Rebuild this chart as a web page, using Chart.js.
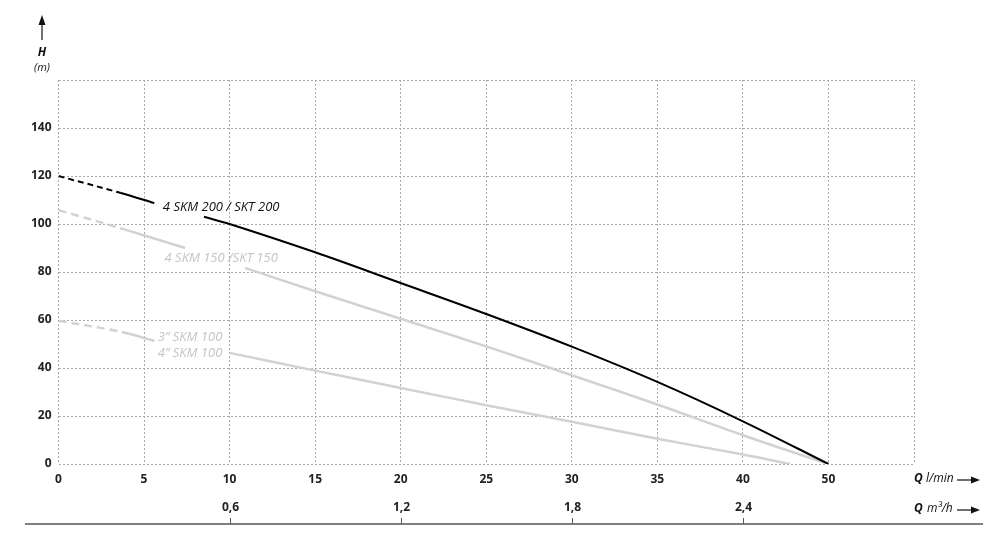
<!DOCTYPE html>
<html>
<head>
<meta charset="utf-8">
<script src="https://cdn.jsdelivr.net/npm/chart.js@4.4.0/dist/chart.umd.min.js"></script>
<style>
  body { margin: 0; background: #fff; }
  #wrap { width: 997px; height: 552px; }
</style>
</head>
<body>
<div id="wrap"><canvas id="c"></canvas></div>
<script>
// x runs in grid steps of 5; the original sheet labels the 10th line "50" (no 45)
const xTickLabels = ['0', '5', '10', '15', '20', '25', '30', '35', '40', '50', ''];
const m3hTickPos = [10, 20, 30, 40];
const m3hTickLabels = ['0,6', '1,2', '1,8', '2,4'];

// 4 SKM 200 / SKT 200
const q200 = [0, 3.6, 5.6, 7, 8.5, 10, 15, 20, 25, 30, 35, 40, 45];
const h200 = [120, 113, 108.7, null, 103, 100, 88.2, 75.4, 62.5, 48.9, 34.2, 17.8, 0];
// 4 SKM 150 / SKT 150
const q150 = [0, 3.6, 7.4, 9, 10.9, 15, 20, 25, 30, 35, 40, 45];
const h150 = [105.8, 98.3, 90, null, 81.7, 72, 60.5, 49, 37, 24.8, 12, 0];
// 3" / 4" SKM 100
const q100 = [0, 3.7, 5.6, 8, 10, 15, 20, 25, 30, 35, 40, 42.75];
const h100 = [59.7, 55, 51.3, null, 46.3, 38.9, 31.7, 24.5, 17.6, 10.5, 4, 0];

const pts = (q, h) => q.map((x, i) => ({ x, y: h[i] }));
const dashStart = (dash) => ctx => ctx.p0.parsed.x < 3.5 ? dash : undefined;

const FONT = '"Open Sans", "DejaVu Sans", sans-serif';
const GRAY = '#d2d2d2';

function arrowRight(ctx, x0, x1, y) {
  ctx.beginPath(); ctx.moveTo(x0, y); ctx.lineTo(x1 - 6, y); ctx.stroke();
  ctx.beginPath(); ctx.moveTo(x1, y); ctx.lineTo(x1 - 9, y - 3.5); ctx.lineTo(x1 - 9, y + 3.5); ctx.closePath(); ctx.fill();
}

const extras = {
  id: 'extras',
  afterDraw(chart) {
    const ctx = chart.ctx, xs = chart.scales.x, ys = chart.scales.y;
    ctx.save();
    ctx.fillStyle = '#111'; ctx.strokeStyle = '#111'; ctx.lineWidth = 1.2;

    // H (m) with arrow
    ctx.beginPath(); ctx.moveTo(42, 40); ctx.lineTo(42, 22); ctx.stroke();
    ctx.beginPath(); ctx.moveTo(42, 15); ctx.lineTo(38.5, 25); ctx.lineTo(45.5, 25); ctx.closePath(); ctx.fill();
    ctx.textAlign = 'center'; ctx.textBaseline = 'middle';
    ctx.font = 'italic bold 12px ' + FONT; ctx.fillText('H', 42, 53);
    ctx.font = 'italic 11px ' + FONT; ctx.fillText('(m)', 42, 68);

    // Q axis captions
    ctx.textAlign = 'left';
    ctx.font = 'italic bold 12px ' + FONT; ctx.fillText('Q', 914, 479);
    ctx.font = 'italic 12px ' + FONT; ctx.fillText('l/min', 926, 479);
    arrowRight(ctx, 957, 980, 480);
    ctx.font = 'italic bold 12px ' + FONT; ctx.fillText('Q', 914, 509);
    ctx.font = 'italic 12px ' + FONT; ctx.fillText('m\u00b3/h', 927, 509);
    arrowRight(ctx, 957, 980, 510);

    // m3/h scale line with ticks
    ctx.strokeStyle = '#555'; ctx.lineWidth = 1.5;
    ctx.beginPath(); ctx.moveTo(25, 524); ctx.lineTo(983, 524); ctx.stroke();
    ctx.lineWidth = 1;
    ctx.font = 'bold 12px ' + FONT; ctx.textAlign = 'center'; ctx.fillStyle = '#222';
    m3hTickPos.forEach((v, i) => {
      const px = Math.round(xs.getPixelForValue(v)) + 0.5;
      ctx.beginPath(); ctx.moveTo(px, 518); ctx.lineTo(px, 524); ctx.stroke();
      ctx.fillText(m3hTickLabels[i], px, 508);
    });

    // curve labels
    ctx.textAlign = 'left';
    ctx.font = 'italic 13px ' + FONT;
    ctx.fillStyle = '#111';
    ctx.fillText('4 SKM 200 / SKT 200', xs.getPixelForValue(6.1), ys.getPixelForValue(107));
    ctx.fillStyle = '#c4c4c4';
    ctx.fillText('4 SKM 150 /SKT 150', xs.getPixelForValue(6.2), ys.getPixelForValue(85.8));
    ctx.fillText('3\u201d SKM 100', xs.getPixelForValue(5.8), ys.getPixelForValue(52.9));
    ctx.fillText('4\u201d SKM 100', xs.getPixelForValue(5.8), ys.getPixelForValue(46.2));
    ctx.restore();
  }
};

new Chart(document.getElementById('c'), {
  type: 'line',
  data: {
    datasets: [
      { label: '4 SKM 200 / SKT 200', data: pts(q200, h200), borderColor: '#000', borderWidth: 2,
        segment: { borderDash: dashStart([6, 4]) } },
      { label: '4 SKM 150 / SKT 150', data: pts(q150, h150), borderColor: GRAY, borderWidth: 2.5,
        segment: { borderDash: dashStart([8, 5]) } },
      { label: 'SKM 100', data: pts(q100, h100), borderColor: GRAY, borderWidth: 2.5,
        segment: { borderDash: dashStart([8, 5]) } }
    ]
  },
  options: {
    responsive: true, maintainAspectRatio: false, animation: false,
    layout: { padding: { top: 80, right: 83, left: 0, bottom: 0 } },
    elements: { point: { radius: 0 }, line: { tension: 0.35, fill: false } },
    spanGaps: false,
    plugins: { legend: { display: false }, tooltip: { enabled: false } },
    scales: {
      x: {
        type: 'linear', min: 0, max: 50,
        afterFit: s => { s.height = 88; },
        afterBuildTicks: s => { s.ticks = xTickLabels.map((_, i) => ({ value: i * 5 })); },
        ticks: { callback: (v, i) => xTickLabels[i], padding: 8, maxRotation: 0, autoSkip: false,
          color: '#222', font: { family: FONT, size: 12, weight: 'bold' } },
        grid: { color: '#aaa', drawTicks: false, lineWidth: 1 },
        border: { display: false, dash: [2, 2] }
      },
      y: {
        min: 0, max: 160,
        afterFit: s => { s.width = 58.5; },
        ticks: { stepSize: 20, callback: v => v === 160 ? '' : v, padding: 7,
          color: '#222', font: { family: FONT, size: 12, weight: 'bold' } },
        grid: { color: '#aaa', drawTicks: false, lineWidth: 1 },
        border: { display: false, dash: [2, 2] }
      }
    }
  },
  plugins: [extras]
});
</script>
</body>
</html>
